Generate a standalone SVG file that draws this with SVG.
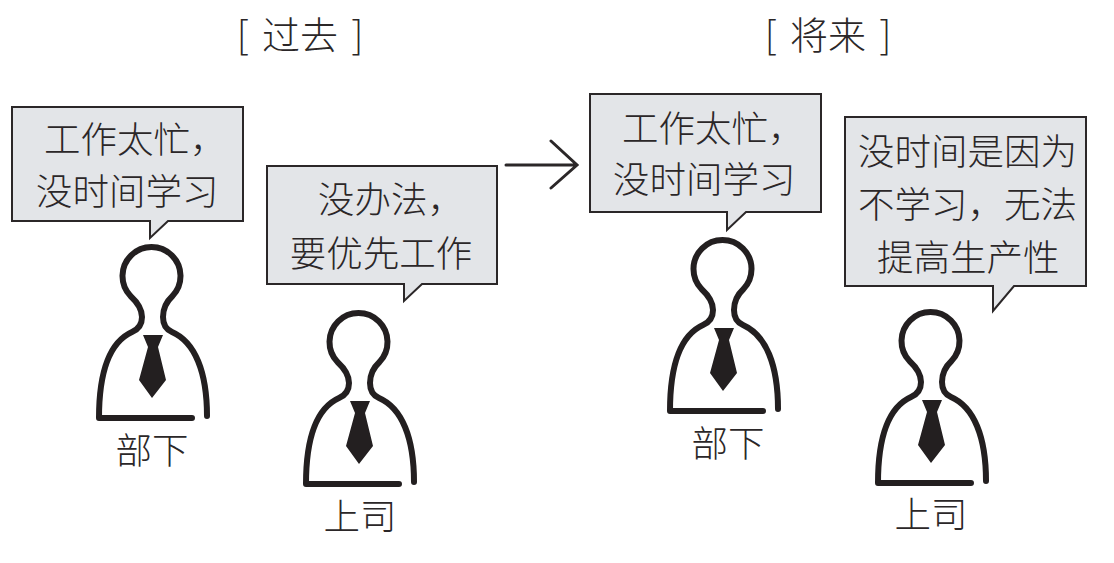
<svg xmlns="http://www.w3.org/2000/svg" xmlns:xlink="http://www.w3.org/1999/xlink" width="1114" height="563" viewBox="0 0 1114 563">
<style>
text{font-family:"Noto Sans CJK SC","Noto Sans",sans-serif;font-size:36.5px;fill:#2b2728;font-weight:300}
.m{text-anchor:middle}
.t{font-size:38px;word-spacing:5px}
.b{fill:#e3e5e8;stroke:#2b2728;stroke-width:2;stroke-linejoin:miter}
.body{fill:none;stroke:#231f20;stroke-width:6;stroke-linecap:round;stroke-linejoin:round}
.conn{fill:none;stroke:#2b2728;stroke-width:3;stroke-linecap:round;stroke-linejoin:miter}
</style>
<defs>
<g id="person">
<path class="body" d="M207 416C207 372 195 342 172 332C165 329 163 323 163 317C163 310 166 302 172.500 296A29 29 0 1 0 130.500 296C137 302 142 310 142 317C142 323 139 329 132 332C110 342 99 372 99 418L192 418"/>
<path fill="#231f20" d="M143 335L163 335L158 347L166 380L152 398L139 380L148 347Z"/>
</g>
</defs>
<rect width="1114" height="563" fill="#fff"/>
<g id="title-past"><text class="m t" x="300" y="49">[ 过去 ]</text></g>
<g id="title-future"><text class="m t" x="828" y="49">[ 将来 ]</text></g>
<g id="connectors"><path class="conn" d="M506 165L576 165M551 141L577 165L551 188"/></g>
<g id="subordinate-past">
<path class="b" d="M12 107H243V221H168L150 238V221H12Z"/>
<text x="44" y="153">工作太忙，</text>
<text x="36" y="205">没时间学习</text>
<use xlink:href="#person" href="#person"/>
<text class="m" x="152" y="464">部下</text>
</g>
<g id="boss-past">
<path class="b" d="M267 166H497V284H422L404 301V284H267Z"/>
<text x="318" y="213">没办法，</text>
<text class="m" x="381" y="267">要优先工作</text>
<use xlink:href="#person" href="#person" transform="translate(207 66)"/>
<text class="m" x="360" y="530">上司</text>
</g>
<g id="subordinate-future">
<path class="b" d="M590 94H821V212H746L727 230V212H590Z"/>
<text x="622" y="142">工作太忙，</text>
<text x="613" y="193">没时间学习</text>
<use xlink:href="#person" href="#person" transform="translate(571 -7)"/>
<text class="m" x="728" y="457">部下</text>
</g>
<g id="boss-future">
<path class="b" d="M845 117H1086V286H1014L993 311V286H845Z"/>
<text x="858" y="165">没时间是因为</text>
<text x="858" y="218">不学习，无法</text>
<text x="877" y="271">提高生产性</text>
<use xlink:href="#person" href="#person" transform="translate(779 65)"/>
<text class="m" x="931" y="528">上司</text>
</g>
</svg>
